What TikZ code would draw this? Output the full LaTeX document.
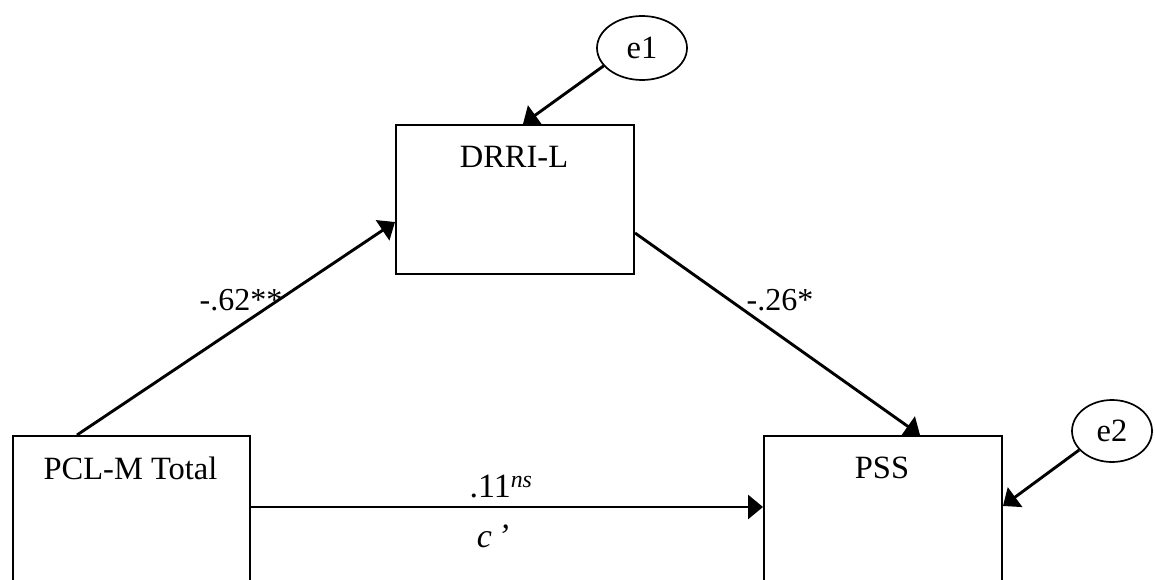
\documentclass[tikz,border=0pt]{standalone}
\usepackage{fontspec}
\setmainfont{Liberation Serif}
\usetikzlibrary{arrows.meta,calc,shapes.geometric}
\begin{document}
\begin{tikzpicture}[x=1pt,y=-1pt,
  varbox/.style={draw, line width=2pt, rectangle, inner sep=0pt, anchor=north west},
  vartext/.style={inner sep=0pt, font=\fontsize{32.5}{38}\selectfont},
  errnode/.style={draw, ellipse, line width=1.7pt, inner sep=0pt, font=\fontsize{32.5}{38}\selectfont},
  pathline/.style={line width=2.9pt, -{Triangle[length=15pt,width=24pt]}},
  coef/.style={inner sep=0pt, font=\fontsize{32}{38}\selectfont},
  coefbig/.style={inner sep=0pt, anchor=base, font=\fontsize{34}{40}\selectfont}
]
\useasboundingbox (0,0) rectangle (1155,580);
\clip (0,0) rectangle (1155,580);

% observed variables
\node[varbox, minimum width=237pt, minimum height=200pt] (pcl) at (12,435) {};
\node[vartext] (pcltxt) at (130.5,468) {PCL-M Total};
\node[varbox, minimum width=238pt, minimum height=149pt] (drri) at (395,124) {};
\node[vartext] (drritxt) at (514,157) {DRRI-L};
\node[varbox, minimum width=238pt, minimum height=200pt] (pss) at (763,435) {};
\node[vartext] (psstxt) at (882,468) {PSS};

% error terms
\node[errnode, minimum width=90pt, minimum height=64pt] (e1) at (642,48) {e1};
\node[errnode, minimum width=80pt, minimum height=62pt] (e2) at (1112,431) {e2};

% paths
\draw[pathline] ($(pcl.north west)+(65,0)$) -- ($(drri.north west)+(0,98)$);
\draw[pathline] ($(drri.north east)+(0,109)$) -- ($(pss.north west)+(157,0)$);
\draw[pathline] ($(pcl.north east)+(0,72)$) -- ($(pss.north west)+(0,72)$);
\draw[pathline] (e1.205) -- ($(drri.north west)+(128,0)$);
\draw[pathline] (e2.210) -- ($(pss.north east)+(0,71)$);

% path coefficients
\node[coef] (a) at (241,300) {-.62**};
\node[coef] (b) at (780,300) {-.26*};
\node[coefbig] (c) at (501,497) {.11\textsuperscript{\textit{ns}}};
\node[coefbig] (cp) at (493,547) {\textit{c\,’}};
\end{tikzpicture}
\end{document}
